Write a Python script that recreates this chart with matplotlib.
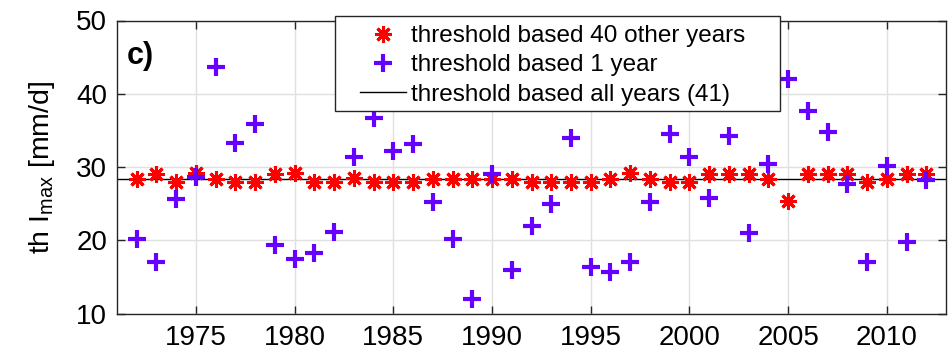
import numpy as np
import matplotlib.pyplot as plt
from matplotlib.patches import Rectangle

plt.rcParams['font.family'] = ['Liberation Sans', 'DejaVu Sans']

# threshold per year, computed from the other 40 years
years = np.arange(1972, 2013)
th_other = [28.4, 29.1, 27.9, 29.15, 28.4, 27.9, 27.9, 29.1, 29.2, 27.9,
            27.9, 28.55, 27.9, 27.9, 27.9, 28.3, 28.3, 28.3, 28.3, 28.3,
            27.9, 27.9, 27.9, 27.9, 28.3, 29.15, 28.3, 27.9, 27.9, 29.1,
            29.1, 29.1, 28.3, 25.4, 29.1, 29.1, 29.1, 27.9, 28.3, 29.1, 29.1]
# threshold per year, computed from that single year
th_one = [20.2, 17.0, 25.6, 28.7, 43.6, 33.3, 35.85, 19.3, 17.4, 18.3,
          21.1, 31.3, 36.7, 32.2, 33.2, 25.2, 20.2, 12.0, 29.1, 16.0,
          22.0, 25.0, 33.9, 16.3, 15.7, 17.0, 25.2, 34.5, 31.3, 25.7,
          34.3, 21.0, 30.4, 42.0, 37.7, 34.8, 27.65, 17.0, 30.15, 19.7, 28.2]
th_all = 28.4

W, H = 950, 352
fig = plt.figure(figsize=(W/100, H/100), dpi=100)
ax = fig.add_axes([117/W, 1 - 313.5/H, (946-117)/W, (313.5-20.5)/H])

ax.plot(years, th_other, linestyle='none', marker=(8, 2, 0), ms=12, mew=2.2,
        color='#ff0000', label='threshold based 40 other years', zorder=3)
ax.plot(years, th_one, linestyle='none', marker='+', ms=13, mew=3,
        color='#6600ff', label='threshold based 1 year', zorder=4)
ax.axhline(th_all, color='black', lw=1, label='threshold based all years (41)', zorder=2)

ax.set_xlim(1971, 2013)
ax.set_ylim(10, 50)
ax.set_xticks(np.arange(1975, 2011, 5))
ax.set_yticks([10, 20, 30, 40, 50])
ax.grid(True, color='#e0e0e0', lw=1)
ax.set_axisbelow(True)
ax.tick_params(direction='in', length=6, width=1, color='#262626',
               labelsize=20, top=True, right=True)
ax.tick_params(axis='x', pad=8)
ax.tick_params(axis='y', pad=7)
for s in ax.spines.values():
    s.set_color('#262626')
    s.set_linewidth(1)

ax.set_ylabel(r'th I$_\mathregular{max}$ [mm/d]', fontsize=20.5, labelpad=14)
ax.text(0.012, 0.93, 'c)', transform=ax.transAxes, fontsize=22,
        fontweight='bold', va='top', ha='left')

# legend box with wide side margins, entries placed inside it
x0, x1, y0, y1 = 335, 780, 15.5, 111
fig.patches.append(Rectangle((x0/W, 1 - y1/H), (x1-x0)/W, (y1-y0)/H,
                             transform=fig.transFigure, facecolor='white',
                             edgecolor='#262626', lw=1, zorder=4))
handles, labels = ax.get_legend_handles_labels()
leg = fig.legend(handles, labels, loc='upper left',
                 bbox_to_anchor=(360/W, 1 - 25/H), bbox_transform=fig.transFigure,
                 fontsize=17.5, frameon=False, borderpad=0, labelspacing=0.3,
                 handlelength=1.9, handletextpad=0.2, borderaxespad=0)
leg.set_zorder(5)

fig.savefig('out.png', dpi=100)
